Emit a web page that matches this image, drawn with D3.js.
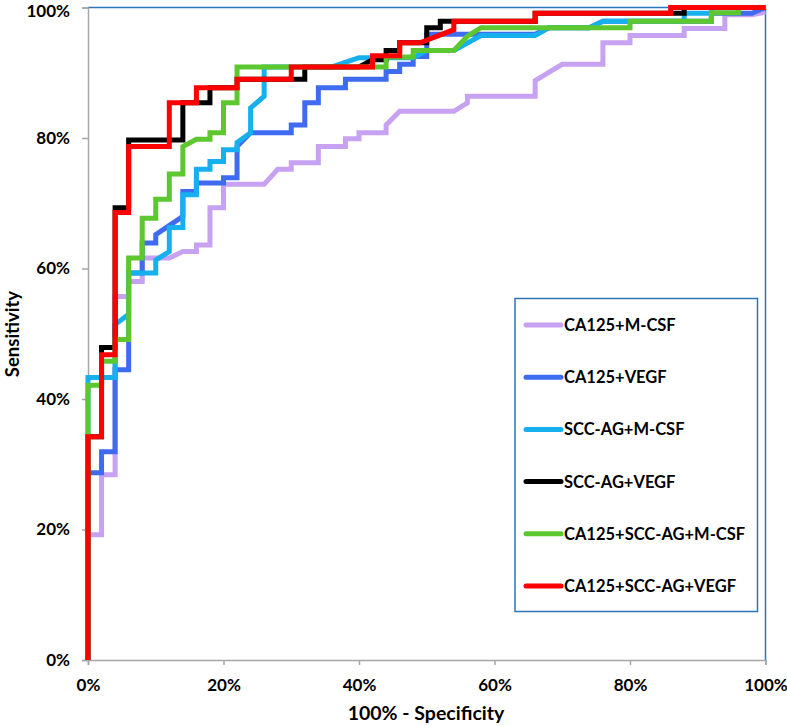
<!DOCTYPE html>
<html>
<head>
<meta charset="utf-8">
<script src="https://cdn.jsdelivr.net/npm/d3@7/dist/d3.min.js"></script>
<style>
  html, body { margin: 0; padding: 0; background: #fff; }
  svg { display: block; }
  text { font-family: Lato, "Open Sans", sans-serif; font-weight: bold; fill: #000; }
</style>
</head>
<body>
<svg id="chart" width="787" height="726"></svg>
<script>
// ---------------- DATA (percent) ----------------
const seriesNames = ["CA125+M-CSF", "CA125+VEGF", "SCC-AG+M-CSF", "SCC-AG+VEGF", "CA125+SCC-AG+M-CSF", "CA125+SCC-AG+VEGF"];
const seriesColors = ["#C8A2F2", "#3E6BF0", "#16B0EE", "#000000", "#5CC72F", "#FF0000"];

const fprCA125MCSF = [0,0,2,2,4,4,6,6,8,8,12,14,16,16,18,18,20,20,26,28,30,30,34,34,38,38,40,40,44,44,46,54,56,56,66,66,70,76,76,80,80,88,88,94,94,98,100];
const tprCA125MCSF = [0,19.2,19.2,28.4,28.4,55.7,55.7,58,58,61.6,61.6,62.6,62.6,63.6,63.6,69.3,69.3,72.9,72.9,75.2,75.2,76.2,76.2,78.7,78.7,79.9,79.9,80.8,80.8,82,84.1,84.1,85.4,86.4,86.4,88.8,91.3,91.3,94.6,94.6,95.7,95.7,96.8,96.8,98.9,98.9,99.3];

const fprCA125VEGF = [0,0,2,2,4,4,6,6,8,8,10,10,14,14,16,16,20,20,22,22,24,30,30,32,32,34,34,38,38,44,44,46,46,48,48,50,50,66,68,74,76,92,92,98,100];
const tprCA125VEGF = [0,28.7,28.7,31.9,31.9,44.5,44.5,59.3,59.3,63.9,63.9,65.2,68,71.8,71.8,73.1,73.1,73.9,73.9,78.7,80.8,80.8,82,82,85.4,85.4,87.7,87.7,89,89,90.2,90.2,91.3,91.3,92.5,92.5,95.9,95.9,96.9,96.9,97.9,97.9,99.1,99.1,100];

const fprSCCMCSF = [0,0,4,4,6,6,10,10,12,12,14,14,16,16,18,18,20,20,22,22,24,24,26,26,36,40,48,50,54,58,66,68,74,76,88,88,92,92,100];
const tprSCCMCSF = [0,43.3,43.3,51.4,53,59.3,59.3,61.3,62.6,66.3,66.3,71.3,71.3,75.2,75.2,76.4,76.4,78.2,78.2,79.3,80.8,84.6,86.4,90.9,90.9,92.3,92.3,93.4,93.4,95.7,95.7,96.9,96.9,97.9,97.9,99.1,99.1,100,100];

const fprSCCVEGF = [0,0,2,2,4,4,6,6,14,14,18,18,22,22,32,32,40,42,44,44,46,46,50,50,52,52,66,66,88,88,100];
const tprSCCVEGF = [0,34.2,34.2,47.9,47.9,69.3,69.3,79.7,79.7,85.4,85.4,87.7,87.7,89,89,90.9,90.9,92,92,93.4,93.4,94.6,94.6,96.9,96.9,97.9,97.9,99.1,99.1,100,100];

const fprCASCCMCSF = [0,0,2,2,4,4,6,6,8,8,10,10,12,12,14,14,16,18,18,20,20,22,22,44,44,48,48,54,56,58,80,80,92,92,96,96,100];
const tprCASCCMCSF = [0,42.1,42.1,45.8,45.8,49.1,49.1,61.6,61.6,67.7,67.7,70.6,70.6,74.5,74.5,78.7,79.8,79.8,80.8,80.8,85.4,85.4,90.9,90.9,92.4,92.4,93.4,93.4,95.6,96.9,96.9,97.9,97.9,99.2,99.2,100,100];

const fprCASCCVEGF = [0,0,2,2,4,4,6,6,12,12,16,16,22,22,30,30,42,42,46,46,49,54,54,66,66,86,86,100];
const tprCASCCVEGF = [0,34.2,34.2,46.8,46.8,68.6,68.6,78.7,78.7,85.4,85.4,87.7,87.7,89,89,90.9,90.9,92.6,92.6,94.6,94.6,96.6,97.9,97.9,99.1,99.1,100,100];

const seriesFpr = [fprCA125MCSF, fprCA125VEGF, fprSCCMCSF, fprSCCVEGF, fprCASCCMCSF, fprCASCCVEGF];
const seriesTpr = [tprCA125MCSF, tprCA125VEGF, tprSCCMCSF, tprSCCVEGF, tprCASCCMCSF, tprCASCCVEGF];

const xTicks = [0, 20, 40, 60, 80, 100];
const yTicks = [0, 20, 40, 60, 80, 100];
const xTitle = "100% - Specificity";
const yTitle = "Sensitivity";

// ---------------- LAYOUT ----------------
const svg = d3.select("#chart");
const L = 88, R = 765.5, T = 7.5, B = 660;
const x = d3.scaleLinear().domain([0, 100]).range([L, R]);
const y = d3.scaleLinear().domain([0, 100]).range([B, T]);

// plot-area border (top/right blue)
svg.append("path")
  .attr("d", `M${L},${T}H${R}V${B}`)
  .attr("fill", "none").attr("stroke", "#2E75B6").attr("stroke-width", 1.5);

// axes
const xAxis = svg.append("g").attr("transform", `translate(0,${B})`)
  .call(d3.axisBottom(x).tickValues(xTicks).tickFormat(d => d + "%").tickSize(5).tickPadding(14));
const yAxis = svg.append("g").attr("transform", `translate(${L},0)`)
  .call(d3.axisLeft(y).tickValues(yTicks).tickFormat(d => d + "%").tickSize(6).tickPadding(12));
[xAxis, yAxis].forEach(g => {
  g.selectAll("path.domain").attr("stroke", "#A6A6A6").attr("stroke-width", 1.5);
  g.selectAll(".tick line").attr("stroke", "#A6A6A6").attr("stroke-width", 1.5);
  g.selectAll(".tick text").attr("font-family", "Lato, sans-serif").attr("font-weight", "bold")
    .attr("font-size", 17).attr("fill", "#000");
});
// keep top label inside the canvas
yAxis.selectAll(".tick text").filter(d => d === 100).attr("dy", "0.5em");

// curves
const line = d3.line().x(d => x(d[0])).y(d => y(d[1]));
seriesNames.forEach((name, i) => {
  const pts = seriesFpr[i].map((v, j) => [v, seriesTpr[i][j]]);
  svg.append("path")
    .datum(pts)
    .attr("d", line)
    .attr("fill", "none")
    .attr("stroke", seriesColors[i])
    .attr("stroke-width", 5)
    .attr("stroke-linejoin", "miter");
});

// axis titles
svg.append("text").attr("x", 426).attr("y", 720).attr("text-anchor", "middle")
  .attr("font-size", 19.5).text(xTitle);
svg.append("text").attr("transform", `translate(19,334) rotate(-90)`)
  .attr("text-anchor", "middle").attr("font-size", 18.5).text(yTitle);

// legend
const lg = svg.append("g");
lg.append("rect").attr("x", 515).attr("y", 298.5).attr("width", 242.5).attr("height", 313)
  .attr("fill", "#fff").attr("stroke", "#2E75B6").attr("stroke-width", 1.5);
seriesNames.forEach((name, i) => {
  const ry = 325 + i * 52.2;
  lg.append("line").attr("x1", 526).attr("x2", 561).attr("y1", ry).attr("y2", ry)
    .attr("stroke", seriesColors[i]).attr("stroke-width", 5).attr("stroke-linecap", "round");
  lg.append("text").attr("x", 564).attr("y", ry + 6).attr("font-size", 16.5).text(name);
});
</script>
</body>
</html>
